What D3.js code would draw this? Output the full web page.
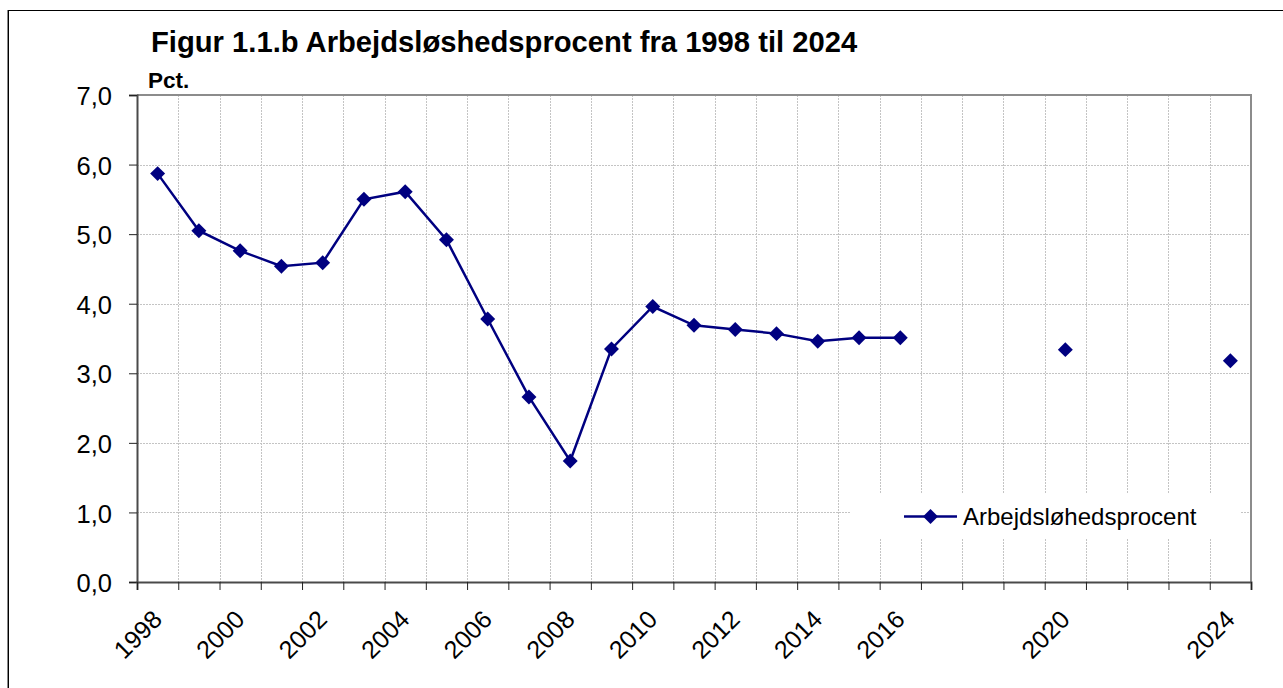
<!DOCTYPE html>
<html>
<head>
<meta charset="utf-8">
<script src="https://cdn.jsdelivr.net/npm/d3@7"></script>
<style>
  body { margin: 0; background: #fff; }
  text { font-family: "Liberation Sans", Arial, sans-serif; fill: #000; }
</style>
</head>
<body>
<div id="chart"></div>
<script>
// categories, one per year (gaps have no value)
const years = ['1998','1999','2000','2001','2002','2003','2004','2005','2006','2007',
    '2008','2009','2010','2011','2012','2013','2014','2015','2016','2017',
    '2018','2019','2020','2021','2022','2023','2024'];
// labels shown under the axis
const tickLabels = ['1998','','2000','','2002','','2004','','2006','',
    '2008','','2010','','2012','','2014','','2016','',
    '','','2020','','','','2024'];
const unemployment = [5.87, 5.05, 4.76, 4.54, 4.59, 5.50, 5.61, 4.92, 3.78, 2.66,
    1.74, 3.35, 3.96, 3.69, 3.63, 3.57, 3.46, 3.51, 3.51, null,
    null, null, 3.34, null, null, null, 3.18];
const yTicks = [0, 1, 2, 3, 4, 5, 6, 7];
const seriesName = 'Arbejdsløhedsprocent';

const W = 1283, H = 688;
const plotL = 137, plotR = 1251, plotT = 95, plotB = 582;

const svg = d3.select('#chart').append('svg')
    .attr('width', W)
    .attr('height', H);

// outer frame
svg.append('rect')
    .attr('x', 8.5).attr('y', 10.5)
    .attr('width', W).attr('height', H)
    .attr('fill', 'none')
    .attr('stroke', '#000')
    .attr('stroke-width', 1);
svg.append('line')
    .attr('x1', 7.5).attr('x2', 7.5).attr('y1', 10).attr('y2', H)
    .attr('stroke', '#888').attr('stroke-width', 1);

const x = d3.scaleBand().domain(years).range([plotL, plotR]).padding(0);
const xEdge = d3.scaleLinear().domain([0, years.length]).range([plotL, plotR]);
const y = d3.scaleLinear().domain([0, 7]).range([plotB, plotT]);

// gridlines
const grid = svg.append('g')
    .attr('stroke', '#c4c4c4')
    .attr('stroke-width', 1)
    .attr('stroke-dasharray', '2,1');
grid.selectAll('.vg').data(d3.range(1, years.length))
    .enter().append('line')
    .attr('x1', d => Math.round(xEdge(d)) + 0.5)
    .attr('x2', d => Math.round(xEdge(d)) + 0.5)
    .attr('y1', plotT).attr('y2', plotB);
grid.selectAll('.hg').data(yTicks.slice(1, -1))
    .enter().append('line')
    .attr('x1', plotL).attr('x2', plotR)
    .attr('y1', d => Math.round(y(d)) + 0.5)
    .attr('y2', d => Math.round(y(d)) + 0.5);

// legend box (white, covers grid)
const legend = svg.append('g');
legend.append('rect')
    .attr('x', 850).attr('y', 494)
    .attr('width', 390).attr('height', 44)
    .attr('fill', '#fff');

// plot border top/right
svg.append('path')
    .attr('d', `M${plotL},${plotT}H${plotR}V${plotB}`)
    .attr('fill', 'none')
    .attr('stroke', '#8c8c8c')
    .attr('stroke-width', 2);

// y axis
const yAxis = svg.append('g')
    .attr('transform', `translate(${plotL},0)`)
    .call(d3.axisLeft(y)
        .tickValues(yTicks)
        .tickSize(8)
        .tickPadding(17)
        .tickFormat(d => d3.format('.1f')(d).replace('.', ',')));
yAxis.select('.domain').attr('stroke', '#4a4a4a').attr('stroke-width', 2);
yAxis.selectAll('.tick line').attr('stroke', '#222');
yAxis.selectAll('.tick text')
    .attr('font-size', 25.5)
    .attr('dy', '0.38em')
    .style('font-family', '"Liberation Sans", Arial, sans-serif');

// x axis: ticks on category boundaries
const xAxis = svg.append('g')
    .attr('transform', `translate(0,${plotB})`)
    .call(d3.axisBottom(xEdge)
        .tickValues(d3.range(0, years.length + 1))
        .tickSize(8)
        .tickFormat(''));
xAxis.select('.domain').attr('stroke', '#4a4a4a').attr('stroke-width', 2);
xAxis.selectAll('.tick line').attr('stroke', '#222');

svg.append('g').selectAll('text')
    .data(years)
    .enter().append('text')
    .attr('text-anchor', 'end')
    .attr('font-size', 25)
    .attr('transform', d => {
        const cx = x(d) + x.bandwidth() / 2 + 6;
        return `translate(${cx},${plotB + 39}) rotate(-45)`;
    })
    .text((d, i) => tickLabels[i]);

// series
const pts = years.map((yr, i) => ({ yr, v: unemployment[i] }));
const line = d3.line()
    .defined(d => d.v != null)
    .x(d => x(d.yr) + x.bandwidth() / 2)
    .y(d => y(d.v));

svg.append('path')
    .datum(pts)
    .attr('d', line)
    .attr('fill', 'none')
    .attr('stroke', '#000080')
    .attr('stroke-width', 2.5);

const diamond = d3.symbol().type(d3.symbolSquare).size(112);
svg.append('g').selectAll('path')
    .data(pts.filter(d => d.v != null))
    .enter().append('path')
    .attr('d', diamond)
    .attr('fill', '#000080')
    .attr('transform', d => `translate(${x(d.yr) + x.bandwidth() / 2},${y(d.v)}) rotate(45)`);

// legend content
legend.append('line')
    .attr('x1', 904).attr('x2', 957)
    .attr('y1', 516.5).attr('y2', 516.5)
    .attr('stroke', '#000080')
    .attr('stroke-width', 2.5);
legend.append('path')
    .attr('d', diamond)
    .attr('fill', '#000080')
    .attr('transform', 'translate(930.5,516.5) rotate(45)');
legend.append('text')
    .attr('x', 963).attr('y', 525)
    .attr('font-size', 24)
    .text(seriesName);

// titles
svg.append('text')
    .attr('x', 151).attr('y', 52)
    .attr('font-size', 29.2)
    .attr('font-weight', 'bold')
    .text('Figur 1.1.b Arbejdsløshedsprocent fra 1998 til 2024');
svg.append('text')
    .attr('x', 148).attr('y', 87.5)
    .attr('font-size', 22.5)
    .attr('font-weight', 'bold')
    .text('Pct.');
</script>
</body>
</html>
